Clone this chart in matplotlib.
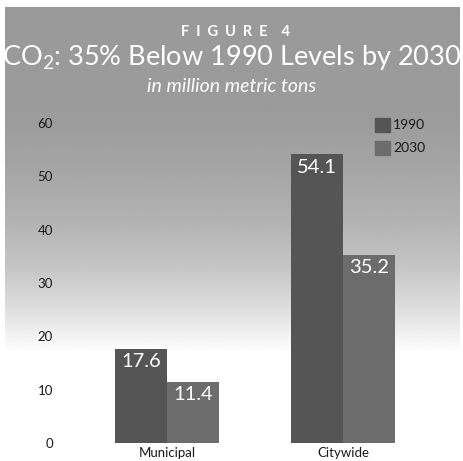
import numpy as np
import matplotlib
matplotlib.use("Agg")
import matplotlib.pyplot as plt
from matplotlib.patches import Rectangle

plt.rcParams['font.family'] = ['Lato', 'DejaVu Sans']
plt.rcParams['mathtext.fontset'] = 'custom'
plt.rcParams['mathtext.rm'] = 'Lato'
plt.rcParams['mathtext.it'] = 'Lato:italic'
plt.rcParams['mathtext.bf'] = 'Lato:bold'

categories = ["Municipal", "Citywide"]
years = ["1990", "2030"]
values_1990 = [17.6, 54.1]
values_2030 = [11.4, 35.2]
yticks = [0, 10, 20, 30, 40, 50, 60]

W, H = 464, 461
fig = plt.figure(figsize=(W / 100, H / 100), dpi=100)
fig.patch.set_facecolor("white")

# background panel: grey at top fading to white toward the baseline
bg = fig.add_axes([0, 0, 1, 1], zorder=0)
bg.set_xlim(0, W)
bg.set_ylim(H, 0)
bg.axis("off")
rows = np.arange(H)
stops_y = [0, 120, 170, 220, 265, 305, 335, 352, H]
stops_v = [0.60, 0.61, 0.65, 0.70, 0.77, 0.86, 0.95, 1.0, 1.0]
shade = np.interp(rows, stops_y, stops_v)
img = np.repeat(shade[:, None], 2, axis=1)
top = 8
bg.imshow(img[top:], cmap="gray", vmin=0, vmax=1, aspect="auto",
          extent=(5, 460, H, top), interpolation="bilinear")

# titles
bg.text(236, 32, "F  I  G  U  R  E    4", color="white", fontsize=10.5,
        fontweight="bold", ha="center", va="center")
bg.text(232, 58, r"CO$_2$: 35% Below 1990 Levels by 2030", color="white",
        fontsize=19.5, ha="center", va="center")
bg.text(232, 86, "in million metric tons", color="white", fontsize=14,
        style="italic", ha="center", va="center")

# plot area: y=0 at pixel 443, y=60 at pixel 123
x0_px, x1_px = 61.4, 448.6
y0_px, y60_px = 443, 123
ax = fig.add_axes([x0_px / W, (H - y0_px) / H, (x1_px - x0_px) / W,
                   (y0_px - y60_px) / H], zorder=1)
ax.patch.set_alpha(0)
ax.set_xlim(-0.6, 1.6)
ax.set_ylim(0, 60)
for s in ax.spines.values():
    s.set_visible(False)

c1990 = "#555555"
c2030 = "#6c6c6c"
w = 0.295
x = np.arange(len(categories))
b1 = ax.bar(x - w / 2, values_1990, w, color=c1990, linewidth=0)
b2 = ax.bar(x + w / 2, values_2030, w, color=c2030, linewidth=0)

for bars, vals in ((b1, values_1990), (b2, values_2030)):
    for r, v in zip(bars, vals):
        ax.annotate(f"{v}", (r.get_x() + r.get_width() / 2, v),
                    xytext=(0, -3), textcoords="offset points",
                    ha="center", va="top", color="white", fontsize=14.5)

ax.set_yticks(yticks)
ax.set_yticklabels([str(t) for t in yticks], fontsize=9.5, color="#1a1a1a")
ax.set_xticks(x)
ax.set_xticklabels(categories, fontsize=9.5, color="#1a1a1a")
ax.tick_params(axis="both", length=0)
ax.tick_params(axis="y", pad=6)
ax.tick_params(axis="x", pad=3)

# legend
for i, (yr, col) in enumerate(zip(years, [c1990, c2030])):
    ypx = 125 + i * 23
    bg.add_patch(Rectangle((375, ypx - 7), 15, 14, color=col, zorder=3))
    bg.text(393, ypx, yr, fontsize=10, color="#1a1a1a", va="center",
            ha="left", zorder=3)

fig.savefig("out.png", dpi=100)
